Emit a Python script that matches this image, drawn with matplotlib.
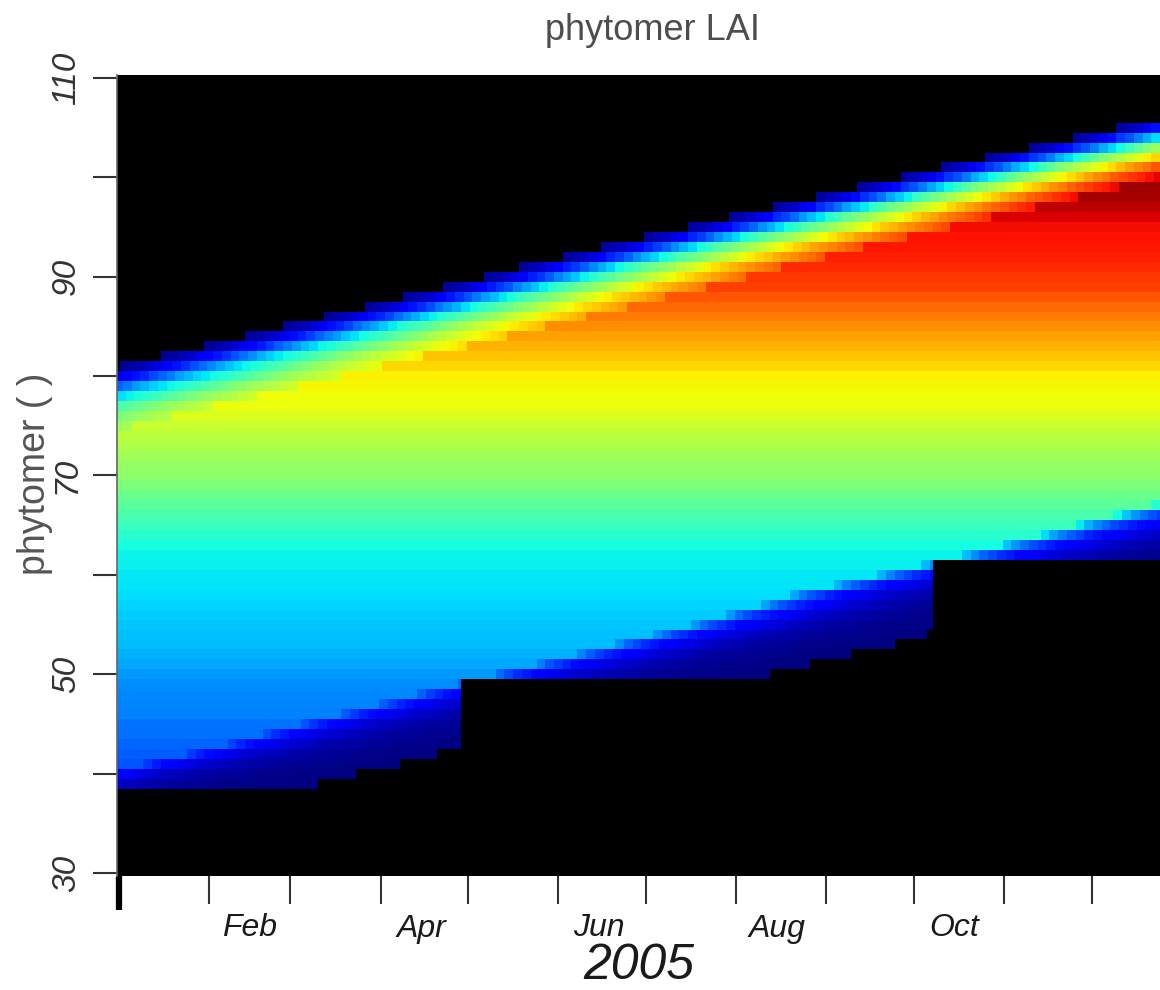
import numpy as np
import matplotlib
matplotlib.use("Agg")
import matplotlib.pyplot as plt
from matplotlib.transforms import blended_transform_factory

plt.rcParams['font.family'] = ['Liberation Sans', 'DejaVu Sans']

# ---------------- data ----------------
# phytomer ranks shown (rows) and the mature (fully expanded) LAI colour value of each
phytomers = list(range(39, 106))
mature_lai = [0.200, 0.205, 0.210, 0.215, 0.225, 0.235, 0.240, 0.250, 0.255, 0.260,   # 39-48
              0.265, 0.275, 0.290, 0.300, 0.310, 0.315, 0.320, 0.325, 0.335, 0.340,   # 49-58
              0.350, 0.355, 0.360, 0.365, 0.375, 0.400, 0.420, 0.440, 0.460, 0.480,   # 59-68
              0.500, 0.520, 0.530, 0.545, 0.560, 0.575, 0.590, 0.615, 0.635, 0.640,   # 69-78
              0.645, 0.655, 0.680, 0.700, 0.720, 0.740, 0.760, 0.780, 0.800, 0.820,   # 79-88
              0.840, 0.850, 0.865, 0.875, 0.885, 0.890, 0.895, 0.920, 0.945, 0.965,   # 89-98
              0.970, 0.980, 0.985, 0.990, 0.995, 1.000, 1.000]                        # 99-105

# day of year (0 = 1 Jan 2005) at which young phytomers appear
young_phytomers = list(range(75, 106))
emergence_day = [-85, -71, -57, -42, -28, -13, 1, 15, 30, 44, 57, 71, 85, 98, 112, 126,
                 138, 153, 166, 181, 196, 210, 225, 240, 254, 269, 283, 298, 313, 328, 343]

# day at which old phytomers start to senesce
old_phytomers = list(range(39, 68))
senescence_day = [-25, -10, 6, 21, 35, 47, 60, 74, 87, 100, 114, 127, 141, 155, 168, 181,
                  194, 206, 218, 228, 243, 258, 273, 287, 301, 314, 326, 339, 352]

# day at which dead phytomers are removed (vanish)
removed_phytomers = list(range(39, 62))
removal_day = [69, 82, 97, 110, 118, 118, 118, 118, 118, 118, 118, 224, 238, 252, 267, 278,
               280, 280, 280, 280, 280, 280, 280]

# fraction of mature LAI reached, per 3-day class of leaf age (mature after last class)
expansion_fraction = [0.03, 0.05, 0.07, 0.10, 0.14, 0.18, 0.21, 0.25, 0.30, 0.34,
                      0.38, 0.43, 0.47, 0.51, 0.54, 0.57, 0.60, 0.63, 0.66, 0.69,
                      0.72, 0.75, 0.78, 0.80, 0.83, 0.85, 0.87, 0.89, 0.91, 0.93]
# fraction of LAI kept, per 3-day class of time since senescence began
senescence_fraction = [1.00, 0.85, 0.72, 0.62, 0.54, 0.47, 0.41, 0.36, 0.32, 0.28,
                       0.25, 0.22, 0.19, 0.17, 0.15, 0.13, 0.115, 0.10, 0.085, 0.075,
                       0.065, 0.055, 0.045, 0.040, 0.035, 0.030, 0.025, 0.020, 0.015,
                       0.010, 0.005, 0.0]

n_days = 358
month_start_days = [31, 59, 90, 120, 151, 181, 212, 243, 273, 304, 334]
label_days = [45, 104, 165, 226, 287]
label_names = ['Feb', 'Apr', 'Jun', 'Aug', 'Oct']
year_label = '2005'

# ---------------- build the field ----------------
days = np.arange(n_days)
rows = np.arange(30, 111)
field = np.full((rows.size, n_days), np.nan)
emer = dict(zip(young_phytomers, emergence_day))
sen = dict(zip(old_phytomers, senescence_day))
rem = dict(zip(removed_phytomers, removal_day))
exp_arr = np.array(expansion_fraction)
sen_arr = np.array(senescence_fraction)
for p, a in zip(phytomers, mature_lai):
    vals = np.full(n_days, float(a))
    if p in emer:
        age = days - emer[p]
        k = age // 3
        f = np.where(k >= len(exp_arr), 1.0, exp_arr[np.clip(k, 0, len(exp_arr) - 1)])
        vals = vals * f
        vals[age < 0] = np.nan
    if p in sen:
        ds = days - sen[p]
        k = np.clip(ds // 3, 0, len(sen_arr) - 1)
        vals = np.where(ds >= 0, vals * sen_arr[k], vals)
    if p in rem:
        vals[days >= rem[p]] = np.nan
    field[p - 30] = vals

# ---------------- draw ----------------
W, H = 1160, 990
fig = plt.figure(figsize=(W / 100, H / 100), dpi=100)
ax = fig.add_axes([117 / W, 114 / H, 1 - 117 / W, 801 / H])
ax.set_facecolor('black')
x_edges = np.arange(n_days + 1) - 0.5
y_edges = np.arange(rows.size + 1) + 29.5
ax.pcolormesh(x_edges, y_edges, np.ma.masked_invalid(field), cmap='jet',
              vmin=0, vmax=1, shading='flat', antialiased=False, edgecolors='none')
ax.set_xlim(-0.5, n_days - 0.5)
ax.set_ylim(29.7, 110.3)

for s in ['top', 'right', 'bottom']:
    ax.spines[s].set_visible(False)
ax.spines['left'].set_color('#666666')
ax.spines['left'].set_linewidth(1.2)

# y axis
ax.set_yticks([30, 50, 70, 90, 110])
ax.set_yticks([40, 60, 80, 100], minor=True)
ax.set_yticklabels(['30', '50', '70', '90', '110'], rotation=90, va='center',
                   fontsize=24, fontstyle='italic', color='#333333')
ax.tick_params(axis='y', which='both', length=17, width=1.5, color='#333333', pad=8)

# x axis
ax.set_xticks(month_start_days)
ax.set_xticklabels([''] * len(month_start_days))
ax.set_xticks(label_days, minor=True)
ax.set_xticklabels(label_names, minor=True, fontsize=23, fontstyle='italic', color='#1a1a1a')
ax.tick_params(axis='x', which='major', length=20, width=1.5, color='#333333')
ax.tick_params(axis='x', which='minor', length=0, pad=27)

tr = blended_transform_factory(ax.transData, ax.transAxes)
ax.plot([0.3, 0.3], [0, -34 / 801], transform=tr, color='black', lw=4.5,
        clip_on=False, solid_capstyle='butt')

fig.text(638.5 / W, 1 - 966 / H, year_label, ha='center', va='center',
         fontsize=36, fontstyle='italic', color='#1a1a1a')
fig.text(652 / W, 1 - 30 / H, 'phytomer LAI', ha='center', va='center',
         fontsize=26, color='#4d4d4d')
fig.text(35 / W, 1 - 474 / H, 'phytomer ( )', ha='center', va='center', rotation=90,
         fontsize=27, color='#555555')

fig.savefig('out.png', dpi=100, facecolor='white')
